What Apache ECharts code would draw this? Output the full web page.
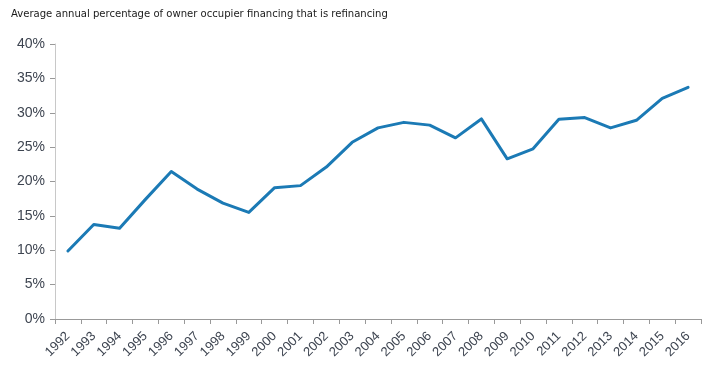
<!DOCTYPE html>
<html><head><meta charset="utf-8">
<script src="https://cdn.jsdelivr.net/npm/echarts@6/dist/echarts.min.js"></script>
<style>html,body{margin:0;padding:0;background:#fff}#c{width:716px;height:372px}</style>
</head><body><div id="c"></div>
<script>
const title = "Average annual percentage of owner occupier financing that is refinancing";
const years = ["1992","1993","1994","1995","1996","1997","1998","1999","2000","2001","2002","2003","2004","2005","2006","2007","2008","2009","2010","2011","2012","2013","2014","2015","2016"];
const refinancingShare = [9.9,13.75,13.2,17.4,21.45,18.9,16.85,15.5,19.1,19.4,22.1,25.7,27.8,28.6,28.2,26.35,29.1,23.3,24.75,29.05,29.3,27.8,28.9,32.1,33.7];
const yMin = 0, yMax = 40, yStep = 5;

const chart = echarts.init(document.getElementById('c'), null, {renderer:'canvas'});
chart.setOption({
  animation:false,
  title:{text:title,left:6,top:4,textStyle:{fontFamily:'"DejaVu Sans Condensed",sans-serif',fontSize:11.2,fontWeight:'normal',color:'#1a1a1a'}},
  grid:{left:55,right:15,top:44,bottom:53,containLabel:false},
  xAxis:{type:'category',data:years,boundaryGap:true,
    axisLine:{lineStyle:{color:'#999',width:1}},
    axisTick:{show:true,alignWithLabel:false,length:5,lineStyle:{color:'#999'}},
    axisLabel:{rotate:45,interval:0,fontFamily:'Liberation Sans',fontSize:13,color:'#3d4450',margin:15}},
  yAxis:{type:'value',min:yMin,max:yMax,interval:yStep,
    axisLine:{show:true,lineStyle:{color:'#c8c8c8'}},
    axisTick:{show:true,length:5,lineStyle:{color:'#999'}},
    splitLine:{show:false},
    axisLabel:{formatter:'{value}%',fontFamily:'Liberation Sans',fontSize:14,color:'#3d4450',margin:10}},
  series:[{type:'line',data:refinancingShare,showSymbol:false,symbol:'none',
    lineStyle:{color:'#1b7ab5',width:3,join:'round',cap:'round'}}]
});
</script></body></html>
